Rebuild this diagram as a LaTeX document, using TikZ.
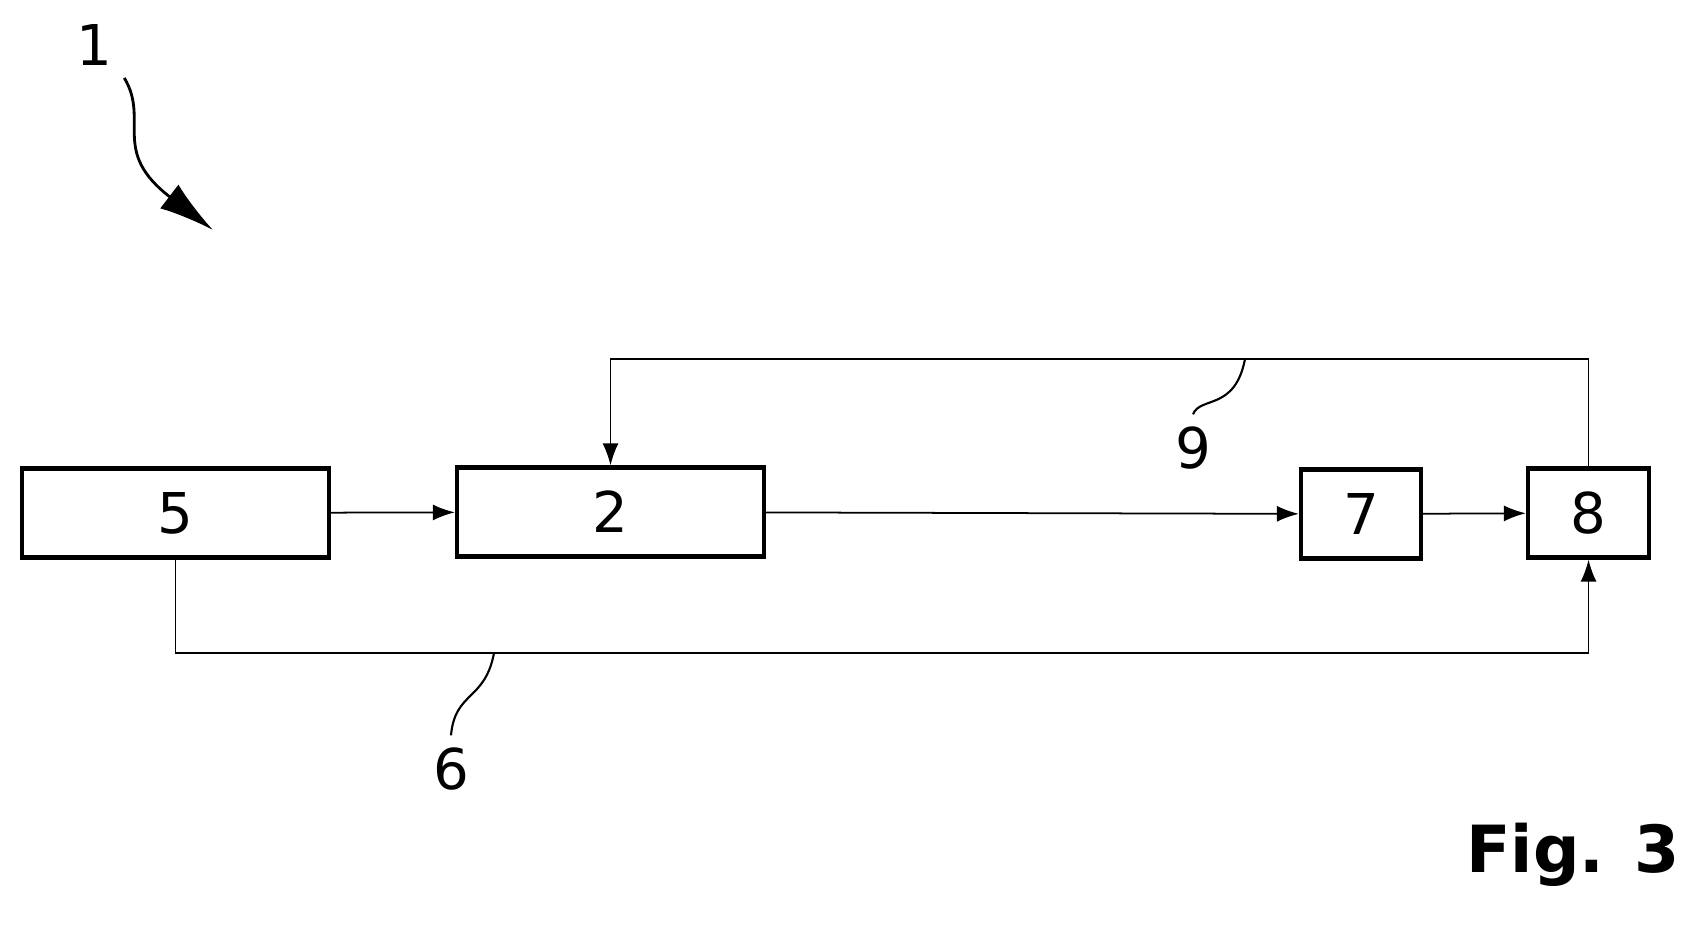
\documentclass[tikz,border=0pt]{standalone}
\usepackage{fontspec}
\setmainfont{DejaVu Sans}
\usetikzlibrary{arrows.meta,positioning}
\tikzset{
  block/.style={draw, line width=1.2pt, minimum height=0.89cm, font=\fontsize{16}{19}\selectfont},
  link/.style={-{Latex[length=2.2mm,width=1.6mm]}, line width=0.5pt},
  lead/.style={line width=0.6pt},
  refnum/.style={font=\fontsize{16}{19}\selectfont}
}
\begin{document}
\begin{tikzpicture}
\useasboundingbox (0,0) rectangle (16.84,9.31);
\node[block, minimum width=3.07cm] (b5) at (1.755,4.18) {5};
\node[block, minimum width=3.07cm] (b2) at (6.105,4.19) {2};
\node[block, minimum width=1.20cm] (b7) at (13.61,4.17) {7};
\node[block, minimum width=1.21cm] (b8) at (15.885,4.18) {8};

\draw[link] (b5) -- (b2);
\draw[link] (b2) -- (b7);
\draw[link] (b7) -- (b8);
\coordinate (t9) at (12.45,5.72);
\draw[link] (b8.north) |- (t9) -| (b2.north);
\coordinate (t6) at (4.94,2.78);
\draw[link] (b5.south) |- (t6) -| (b8.south);

% leaders
\node[refnum] (n9) at (11.93,4.83) {9};
\draw[lead] (t9) .. controls (12.35,5.2) and (12.0,5.35) .. (n9.north);
\node[refnum] (n6) at (4.51,1.62) {6};
\draw[lead] (t6) .. controls (4.85,2.3) and (4.55,2.4) .. (n6.north);
\node[refnum] (n1) at (0.94,8.86) {1};
\coordinate (a1) at (2.13,7.01);
\draw[line width=0.8pt, -{Latex[length=5.5mm,width=3mm]}] (n1.south east) .. controls (1.5,8.1) and (1.1,7.8) .. (a1);

\node[font=\bfseries\fontsize{18.5}{22}\selectfont] (fig) at (15.73,0.76) {Fig. 3};
\end{tikzpicture}
\end{document}
